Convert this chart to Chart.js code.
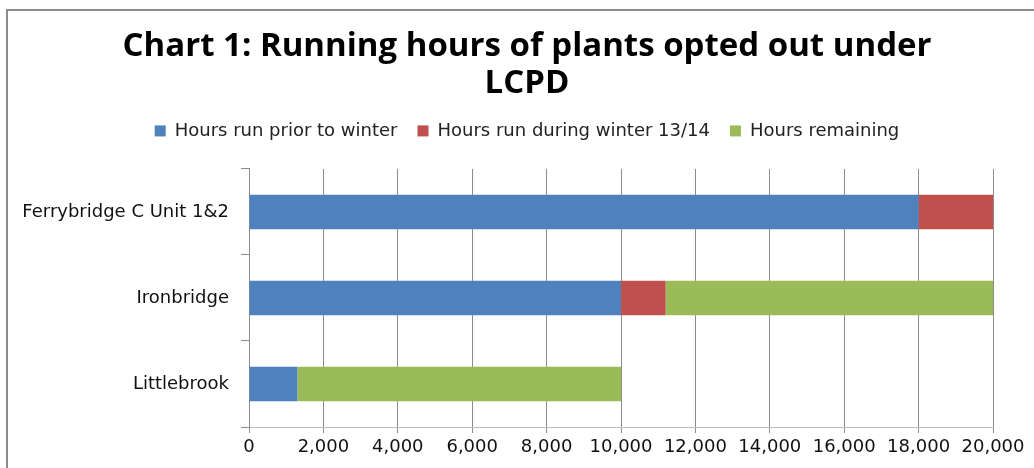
<!DOCTYPE html>
<html>
<head>
<meta charset="utf-8">
<script src="https://cdn.jsdelivr.net/npm/chart.js@4.4.0/dist/chart.umd.min.js"></script>
<style>
  html, body { margin: 0; padding: 0; background: #fff; }
  #wrap { width: 1034px; height: 468px; }
</style>
</head>
<body>
<div id="wrap"><canvas id="chart" width="1034" height="468"></canvas></div>
<script>
const plants = ['Ferrybridge C Unit 1&2', 'Ironbridge', 'Littlebrook'];
const priorHours = [18000, 10000, 1300];
const winterHours = [2000, 1200, 0];
const remainingHours = [0, 8800, 8700];
const xTicks = [0, 2000, 4000, 6000, 8000, 10000, 12000, 14000, 16000, 18000, 20000];

// grey frame round the chart, like the office export
const framePlugin = {
    id: 'frame',
    beforeDraw(chart) {
        const ctx = chart.ctx;
        ctx.save();
        ctx.fillStyle = '#fff';
        ctx.fillRect(0, 0, chart.width, chart.height);
        ctx.strokeStyle = '#8c8c8c';
        ctx.lineWidth = 2;
        ctx.strokeRect(7, 10, 1200, 700);
        ctx.restore();
    }
};

const ctx = document.getElementById('chart').getContext('2d');
new Chart(ctx, {
    type: 'bar',
    data: {
        labels: plants,
        datasets: [
            { label: 'Hours run prior to winter', data: priorHours, backgroundColor: '#4F81BD' },
            { label: 'Hours run during winter 13/14', data: winterHours, backgroundColor: '#C0504D' },
            { label: 'Hours remaining', data: remainingHours, backgroundColor: '#9BBB59' }
        ]
    },
    options: {
        indexAxis: 'y',
        responsive: false,
        animation: false,
        categoryPercentage: 0.4,
        barPercentage: 1,
        layout: { padding: { left: 20, right: 0, top: 0, bottom: 0 } },
        plugins: {
            title: {
                display: true,
                text: ['Chart 1: Running hours of plants opted out under', 'LCPD'],
                color: '#000',
                font: { family: 'Open Sans', size: 33, weight: 'bold', lineHeight: 1.12 },
                padding: { top: 28, bottom: 0 }
            },
            // empty spacer under the legend
            subtitle: {
                display: true,
                text: '',
                weight: 500,
                font: { size: 1, lineHeight: 1 },
                padding: { top: 0, bottom: 18 }
            },
            legend: {
                position: 'top',
                labels: {
                    color: '#222',
                    font: { family: 'DejaVu Sans', size: 18 },
                    boxWidth: 11,
                    boxHeight: 11,
                    padding: 20
                }
            },
            tooltip: { enabled: false }
        },
        scales: {
            x: {
                stacked: true,
                min: 0,
                max: 20000,
                afterBuildTicks: s => { s.ticks = xTicks.map(v => ({ value: v })); },
                afterFit: s => { s.height = 41; },
                grid: { color: '#8c8c8c', tickLength: 6 },
                border: { color: '#bfbfbf' },
                ticks: {
                    color: '#111',
                    padding: 4,
                    font: { family: 'DejaVu Sans', size: 18 },
                    callback: v => v.toLocaleString('en-US')
                }
            },
            y: {
                stacked: true,
                afterFit: s => { s.width = 229; },
                grid: { drawOnChartArea: false, offset: true, tickLength: 8, color: '#8c8c8c' },
                border: { color: '#8c8c8c' },
                ticks: {
                    color: '#111',
                    padding: 12,
                    font: { family: 'DejaVu Sans', size: 18 }
                }
            },
            // empty axis on the right, keeps the plot end at 20,000 clear of the edge
            yRight: {
                type: 'category',
                position: 'right',
                afterFit: s => { s.width = 41; },
                grid: { display: false },
                border: { display: false },
                ticks: { display: false }
            }
        }
    },
    plugins: [framePlugin]
});
</script>
</body>
</html>
